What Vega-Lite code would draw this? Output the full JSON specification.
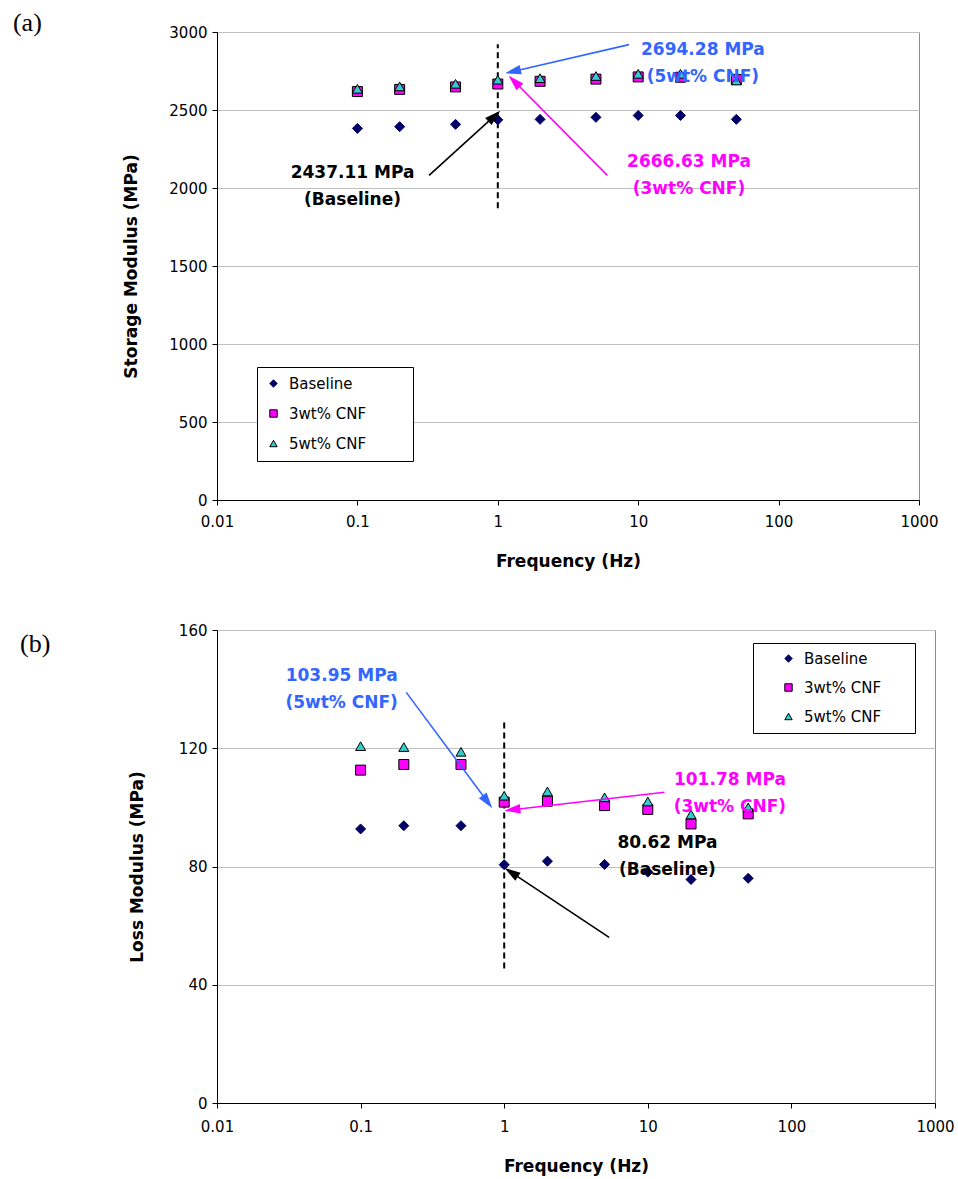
{
  "$schema": "https://vega.github.io/schema/vega-lite/v6.json",
  "background": "white",
  "padding": {"left": 12, "top": 9, "right": 5, "bottom": 5},
  "spacing": 52,
  "datasets": {
    "storage": [
      {"f": 0.1, "series": "Baseline", "v": 2382},
      {"f": 0.2, "series": "Baseline", "v": 2393},
      {"f": 0.5, "series": "Baseline", "v": 2408},
      {"f": 1, "series": "Baseline", "v": 2437.11},
      {"f": 2, "series": "Baseline", "v": 2440},
      {"f": 5, "series": "Baseline", "v": 2453},
      {"f": 10, "series": "Baseline", "v": 2465},
      {"f": 20, "series": "Baseline", "v": 2465},
      {"f": 50, "series": "Baseline", "v": 2440},
      {"f": 0.1, "series": "3wt% CNF", "v": 2618},
      {"f": 0.2, "series": "3wt% CNF", "v": 2632},
      {"f": 0.5, "series": "3wt% CNF", "v": 2648},
      {"f": 1, "series": "3wt% CNF", "v": 2666.63},
      {"f": 2, "series": "3wt% CNF", "v": 2684},
      {"f": 5, "series": "3wt% CNF", "v": 2698},
      {"f": 10, "series": "3wt% CNF", "v": 2712},
      {"f": 20, "series": "3wt% CNF", "v": 2710},
      {"f": 50, "series": "3wt% CNF", "v": 2696},
      {"f": 0.1, "series": "5wt% CNF", "v": 2636},
      {"f": 0.2, "series": "5wt% CNF", "v": 2651},
      {"f": 0.5, "series": "5wt% CNF", "v": 2668},
      {"f": 1, "series": "5wt% CNF", "v": 2694.28},
      {"f": 2, "series": "5wt% CNF", "v": 2704},
      {"f": 5, "series": "5wt% CNF", "v": 2718},
      {"f": 10, "series": "5wt% CNF", "v": 2732},
      {"f": 20, "series": "5wt% CNF", "v": 2732},
      {"f": 50, "series": "5wt% CNF", "v": 2689}
    ],
    "loss": [
      {"f": 0.1, "series": "Baseline", "v": 92.7},
      {"f": 0.2, "series": "Baseline", "v": 93.8},
      {"f": 0.5, "series": "Baseline", "v": 93.8},
      {"f": 1, "series": "Baseline", "v": 80.62},
      {"f": 2, "series": "Baseline", "v": 81.8},
      {"f": 5, "series": "Baseline", "v": 80.7},
      {"f": 10, "series": "Baseline", "v": 78.1},
      {"f": 20, "series": "Baseline", "v": 75.6},
      {"f": 50, "series": "Baseline", "v": 76.0},
      {"f": 0.1, "series": "3wt% CNF", "v": 112.6},
      {"f": 0.2, "series": "3wt% CNF", "v": 114.5},
      {"f": 0.5, "series": "3wt% CNF", "v": 114.5},
      {"f": 1, "series": "3wt% CNF", "v": 101.78},
      {"f": 2, "series": "3wt% CNF", "v": 102.1},
      {"f": 5, "series": "3wt% CNF", "v": 100.6},
      {"f": 10, "series": "3wt% CNF", "v": 99.3},
      {"f": 20, "series": "3wt% CNF", "v": 94.4},
      {"f": 50, "series": "3wt% CNF", "v": 97.8},
      {"f": 0.1, "series": "5wt% CNF", "v": 120.7},
      {"f": 0.2, "series": "5wt% CNF", "v": 120.4},
      {"f": 0.5, "series": "5wt% CNF", "v": 118.8},
      {"f": 1, "series": "5wt% CNF", "v": 103.95},
      {"f": 2, "series": "5wt% CNF", "v": 105.4},
      {"f": 5, "series": "5wt% CNF", "v": 103.4},
      {"f": 10, "series": "5wt% CNF", "v": 102.0},
      {"f": 20, "series": "5wt% CNF", "v": 97.6},
      {"f": 50, "series": "5wt% CNF", "v": 100.0}
    ],
    "annoA": [
      {"series": "Baseline", "label": "2437.11 MPa\n(Baseline)", "tf": 0.0923, "tv": 2094, "f": 0.324, "v": 2081, "f2": 0.944, "v2": 2461, "ang": 47.8},
      {"series": "3wt% CNF", "label": "2666.63 MPa\n(3wt% CNF)", "tf": 23.0, "tv": 2168, "f": 6.03, "v": 2081, "f2": 1.31, "v2": 2684, "ang": 315},
      {"series": "5wt% CNF", "label": "2694.28 MPa\n(5wt% CNF)", "tf": 28.9, "tv": 2882, "f": 8.59, "v": 2919, "f2": 1.28, "v2": 2747, "ang": 257}
    ],
    "annoB": [
      {"series": "5wt% CNF", "label": "103.95 MPa\n(5wt% CNF)", "tf": 0.0738, "tv": 144.6, "f": 0.208, "v": 138.9, "f2": 0.765, "v2": 101.9, "ang": 143.5},
      {"series": "3wt% CNF", "label": "101.78 MPa\n(3wt% CNF)", "tf": 37.3, "tv": 109.4, "f": 13.07, "v": 105.1, "f2": 1.14, "v2": 99.2, "ang": 263.4},
      {"series": "Baseline", "label": "80.62 MPa\n(Baseline)", "tf": 13.7, "tv": 88.1, "f": 5.38, "v": 56.0, "f2": 1.12, "v2": 78.0, "ang": 303.8}
    ],
    "dashA": [{"f": 1, "v": 1870, "v2": 2921}],
    "dashB": [{"f": 1, "v": 45.5, "v2": 129.7}],
    "tagA": [{"f": 0.000352, "v": 3056, "label": "(a)"}],
    "tagB": [{"f": 0.000425, "v": 155.4, "label": "(b)"}]
  },
  "vconcat": [
    {
      "width": 702,
      "height": 468,
      "layer": [
        {
          "data": {"name": "dashA"},
          "mark": {"type": "rule", "color": "black", "strokeWidth": 2, "strokeDash": [6, 4]},
          "encoding": {
            "x": {"field": "f", "type": "quantitative", "scale": {"type": "log", "domain": [0.01, 1000], "nice": false},
              "axis": {"title": "Frequency (Hz)", "values": [0.01, 0.1, 1, 10, 100, 1000], "format": "~g", "grid": false, "labelPadding": 9, "titlePadding": 24, "labelFlush": false, "labelOverlap": false}},
            "y": {"field": "v", "type": "quantitative", "scale": {"domain": [0, 3000], "nice": false, "zero": false},
              "axis": {"title": "Storage Modulus (MPa)", "values": [0, 500, 1000, 1500, 2000, 2500, 3000], "format": "d", "grid": true, "labelPadding": 5, "titlePadding": 28}},
            "y2": {"field": "v2"}
          }
        },
        {
          "data": {"name": "storage"},
          "mark": {"type": "point", "filled": true, "opacity": 1, "size": 100, "strokeWidth": 1},
          "encoding": {
            "x": {"field": "f", "type": "quantitative", "scale": {"type": "log", "domain": [0.01, 1000], "nice": false}},
            "y": {"field": "v", "type": "quantitative", "scale": {"domain": [0, 3000], "nice": false, "zero": false}},
            "fill": {"field": "series", "type": "nominal", "title": "Series",
              "scale": {"domain": ["Baseline", "3wt% CNF", "5wt% CNF"], "range": ["#000066", "#FF00FF", "#33CCCC"]},
              "legend": {"orient": "none", "legendX": 40, "legendY": 335, "title": "\u00a0", "titleOrient": "right", "titlePadding": 38}},
            "shape": {"field": "series", "type": "nominal", "title": "Series",
              "scale": {"domain": ["Baseline", "3wt% CNF", "5wt% CNF"], "range": ["diamond", "square", "triangle-up"]},
              "legend": {"orient": "none", "legendX": 40, "legendY": 335, "title": "\u00a0", "titleOrient": "right", "titlePadding": 38}},
            "stroke": {"field": "series", "type": "nominal", "title": "Series",
              "scale": {"domain": ["Baseline", "3wt% CNF", "5wt% CNF"], "range": ["#000066", "#000000", "#000000"]},
              "legend": {"orient": "none", "legendX": 40, "legendY": 335, "title": "\u00a0", "titleOrient": "right", "titlePadding": 38}}
          }
        },
        {
          "data": {"name": "annoA"},
          "mark": {"type": "rule", "strokeWidth": 1.6},
          "encoding": {
            "x": {"field": "f", "type": "quantitative", "scale": {"type": "log", "domain": [0.01, 1000], "nice": false}},
            "y": {"field": "v", "type": "quantitative", "scale": {"domain": [0, 3000], "nice": false, "zero": false}},
            "x2": {"field": "f2"},
            "y2": {"field": "v2"},
            "color": {"field": "series", "type": "nominal", "legend": null,
              "scale": {"domain": ["Baseline", "3wt% CNF", "5wt% CNF"], "range": ["#000000", "#FF00FF", "#3366FF"]}}
          }
        },
        {
          "data": {"name": "annoA"},
          "mark": {"type": "point", "filled": true, "opacity": 1, "size": 256, "shape": "M0,-1L0.6,1L-0.6,1Z"},
          "encoding": {
            "x": {"field": "f2", "type": "quantitative", "scale": {"type": "log", "domain": [0.01, 1000], "nice": false}},
            "y": {"field": "v2", "type": "quantitative", "scale": {"domain": [0, 3000], "nice": false, "zero": false}},
            "angle": {"field": "ang", "type": "quantitative", "scale": null},
            "color": {"field": "series", "type": "nominal", "legend": null,
              "scale": {"domain": ["Baseline", "3wt% CNF", "5wt% CNF"], "range": ["#000000", "#FF00FF", "#3366FF"]}}
          }
        },
        {
          "data": {"name": "annoA"},
          "mark": {"type": "text", "font": "DejaVu Sans", "fontSize": 17, "fontWeight": "bold", "lineBreak": "\n", "lineHeight": 27, "align": "center", "baseline": "middle"},
          "encoding": {
            "x": {"field": "tf", "type": "quantitative", "scale": {"type": "log", "domain": [0.01, 1000], "nice": false}},
            "y": {"field": "tv", "type": "quantitative", "scale": {"domain": [0, 3000], "nice": false, "zero": false}},
            "text": {"field": "label"},
            "color": {"field": "series", "type": "nominal", "legend": null,
              "scale": {"domain": ["Baseline", "3wt% CNF", "5wt% CNF"], "range": ["#000000", "#FF00FF", "#3366FF"]}}
          }
        },
        {
          "data": {"name": "tagA"},
          "mark": {"type": "text", "font": "Liberation Serif", "fontSize": 26, "align": "left", "baseline": "middle", "color": "black"},
          "encoding": {
            "x": {"field": "f", "type": "quantitative", "scale": {"type": "log", "domain": [0.01, 1000], "nice": false}},
            "y": {"field": "v", "type": "quantitative", "scale": {"domain": [0, 3000], "nice": false, "zero": false}},
            "text": {"field": "label"}
          }
        }
      ]
    },
    {
      "width": 718,
      "height": 473,
      "layer": [
        {
          "data": {"name": "dashB"},
          "mark": {"type": "rule", "color": "black", "strokeWidth": 2, "strokeDash": [6, 4]},
          "encoding": {
            "x": {"field": "f", "type": "quantitative", "scale": {"type": "log", "domain": [0.01, 1000], "nice": false},
              "axis": {"title": "Frequency (Hz)", "values": [0.01, 0.1, 1, 10, 100, 1000], "format": "~g", "grid": false, "labelPadding": 11, "titlePadding": 24, "labelFlush": false, "labelOverlap": false}},
            "y": {"field": "v", "type": "quantitative", "scale": {"domain": [0, 160], "nice": false, "zero": false},
              "axis": {"title": "Loss Modulus (MPa)", "values": [0, 40, 80, 120, 160], "format": "d", "grid": true, "labelPadding": 5, "titlePadding": 32}},
            "y2": {"field": "v2"}
          }
        },
        {
          "data": {"name": "loss"},
          "mark": {"type": "point", "filled": true, "opacity": 1, "size": 100, "strokeWidth": 1},
          "encoding": {
            "x": {"field": "f", "type": "quantitative", "scale": {"type": "log", "domain": [0.01, 1000], "nice": false}},
            "y": {"field": "v", "type": "quantitative", "scale": {"domain": [0, 160], "nice": false, "zero": false}},
            "fill": {"field": "series", "type": "nominal", "title": "Series",
              "scale": {"domain": ["Baseline", "3wt% CNF", "5wt% CNF"], "range": ["#000066", "#FF00FF", "#33CCCC"]},
              "legend": {"orient": "none", "legendX": 536, "legendY": 13, "title": "\u00a0", "titleOrient": "right", "titlePadding": 26, "symbolOffset": 20, "padding": 8, "rowPadding": 13}},
            "shape": {"field": "series", "type": "nominal", "title": "Series",
              "scale": {"domain": ["Baseline", "3wt% CNF", "5wt% CNF"], "range": ["diamond", "square", "triangle-up"]},
              "legend": {"orient": "none", "legendX": 536, "legendY": 13, "title": "\u00a0", "titleOrient": "right", "titlePadding": 26, "symbolOffset": 20, "padding": 8, "rowPadding": 13}},
            "stroke": {"field": "series", "type": "nominal", "title": "Series",
              "scale": {"domain": ["Baseline", "3wt% CNF", "5wt% CNF"], "range": ["#000066", "#000000", "#000000"]},
              "legend": {"orient": "none", "legendX": 536, "legendY": 13, "title": "\u00a0", "titleOrient": "right", "titlePadding": 26, "symbolOffset": 20, "padding": 8, "rowPadding": 13}}
          }
        },
        {
          "data": {"name": "annoB"},
          "mark": {"type": "rule", "strokeWidth": 1.6},
          "encoding": {
            "x": {"field": "f", "type": "quantitative", "scale": {"type": "log", "domain": [0.01, 1000], "nice": false}},
            "y": {"field": "v", "type": "quantitative", "scale": {"domain": [0, 160], "nice": false, "zero": false}},
            "x2": {"field": "f2"},
            "y2": {"field": "v2"},
            "color": {"field": "series", "type": "nominal", "legend": null,
              "scale": {"domain": ["Baseline", "3wt% CNF", "5wt% CNF"], "range": ["#000000", "#FF00FF", "#3366FF"]}}
          }
        },
        {
          "data": {"name": "annoB"},
          "mark": {"type": "point", "filled": true, "opacity": 1, "size": 256, "shape": "M0,-1L0.6,1L-0.6,1Z"},
          "encoding": {
            "x": {"field": "f2", "type": "quantitative", "scale": {"type": "log", "domain": [0.01, 1000], "nice": false}},
            "y": {"field": "v2", "type": "quantitative", "scale": {"domain": [0, 160], "nice": false, "zero": false}},
            "angle": {"field": "ang", "type": "quantitative", "scale": null},
            "color": {"field": "series", "type": "nominal", "legend": null,
              "scale": {"domain": ["Baseline", "3wt% CNF", "5wt% CNF"], "range": ["#000000", "#FF00FF", "#3366FF"]}}
          }
        },
        {
          "data": {"name": "annoB"},
          "mark": {"type": "text", "font": "DejaVu Sans", "fontSize": 17, "fontWeight": "bold", "lineBreak": "\n", "lineHeight": 27, "align": "center", "baseline": "middle"},
          "encoding": {
            "x": {"field": "tf", "type": "quantitative", "scale": {"type": "log", "domain": [0.01, 1000], "nice": false}},
            "y": {"field": "tv", "type": "quantitative", "scale": {"domain": [0, 160], "nice": false, "zero": false}},
            "text": {"field": "label"},
            "color": {"field": "series", "type": "nominal", "legend": null,
              "scale": {"domain": ["Baseline", "3wt% CNF", "5wt% CNF"], "range": ["#000000", "#FF00FF", "#3366FF"]}}
          }
        },
        {
          "data": {"name": "tagB"},
          "mark": {"type": "text", "font": "Liberation Serif", "fontSize": 26, "align": "left", "baseline": "middle", "color": "black"},
          "encoding": {
            "x": {"field": "f", "type": "quantitative", "scale": {"type": "log", "domain": [0.01, 1000], "nice": false}},
            "y": {"field": "v", "type": "quantitative", "scale": {"domain": [0, 160], "nice": false, "zero": false}},
            "text": {"field": "label"}
          }
        }
      ]
    }
  ],
  "resolve": {
    "scale": {"x": "independent", "y": "independent", "fill": "independent", "shape": "independent", "stroke": "independent", "color": "independent"}
  },
  "config": {
    "font": "DejaVu Sans",
    "view": {"stroke": "#8C8C8C", "strokeWidth": 1},
    "axis": {
      "labelFont": "DejaVu Sans", "labelFontSize": 15, "labelColor": "black",
      "titleFont": "DejaVu Sans", "titleFontSize": 17, "titleFontWeight": "bold", "titleColor": "black",
      "domainColor": "black", "domainWidth": 1, "tickColor": "black", "tickSize": 5, "tickWidth": 1,
      "gridColor": "#C0C0C0", "gridWidth": 1
    },
    "legend": {
      "labelFont": "DejaVu Sans", "labelFontSize": 15, "labelColor": "black",
      "strokeColor": "black", "fillColor": "white", "padding": 9, "rowPadding": 14,
      "symbolSize": 55, "symbolStrokeWidth": 1, "symbolOpacity": 1, "labelOffset": 8
    }
  }
}
